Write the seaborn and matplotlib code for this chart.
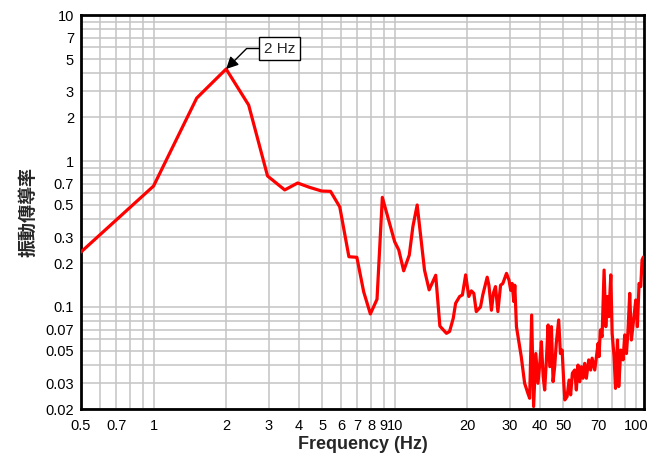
import numpy as np
import pandas as pd
import matplotlib
matplotlib.use('Agg')
import matplotlib.pyplot as plt
from matplotlib.ticker import NullFormatter
import seaborn as sns

# values (log-log plot)
freq = [0.5, 1.0, 1.51, 2.0, 2.48, 2.97, 3.50, 3.96, 4.44, 4.98, 5.42, 5.92,
        6.46, 6.97, 7.44, 7.93, 8.45, 8.89, 10.0, 10.4, 10.9, 11.5, 11.9, 12.4,
        13.3, 13.9, 14.8, 15.4, 16.4, 16.9, 17.5, 17.9, 18.6, 19.1, 19.7, 20.3,
        20.8, 21.3, 21.8, 22.7, 23.2, 24.2, 24.6, 25.2, 25.7, 26.2, 26.8, 27.5,
        28.1, 29.1, 29.8, 30.3, 30.7, 31.2, 31.5, 32.0, 33.5, 34.6, 35.7, 36.3,
        37.0, 37.7, 38.5, 39.3, 40.0, 40.6, 41.3, 41.9, 42.6, 43.3, 44.0, 44.7,
        45.4, 46.1, 46.8, 47.9, 48.7, 49.5, 50.3, 50.8, 51.9, 52.9, 53.7, 54.6,
        55.8, 56.7, 57.6, 58.6, 59.5, 60.4, 61.4, 62.4, 63.8, 65.0, 65.9, 67.6,
        68.7, 69.8, 70.4, 71.3, 72.5, 73.9, 75.1, 76.3, 77.3, 78.8, 79.8, 81.3,
        82.4, 84.0, 85.0, 86.7, 88.6, 90.0, 91.5, 92.9, 94.4, 95.9, 98.3, 100.0,
        101.6, 103.2, 104.9, 106.2, 107.6]
trans = [0.238, 0.674, 2.70, 4.27, 2.42, 0.79, 0.634, 0.707, 0.66, 0.623, 0.62, 0.485,
         0.221, 0.219, 0.127, 0.0896, 0.113, 0.564, 0.28, 0.246, 0.177, 0.227, 0.355, 0.50,
         0.179, 0.131, 0.165, 0.074, 0.066, 0.068, 0.0837, 0.106, 0.118, 0.121, 0.166, 0.118,
         0.129, 0.124, 0.093, 0.100, 0.121, 0.160, 0.141, 0.095, 0.125, 0.138, 0.093, 0.141,
         0.145, 0.170, 0.153, 0.130, 0.145, 0.109, 0.141, 0.0733, 0.0457, 0.030, 0.0256, 0.0237,
         0.088, 0.0208, 0.048, 0.030, 0.0411, 0.0578, 0.0333, 0.027, 0.0434, 0.0753, 0.039, 0.0733,
         0.0308, 0.039, 0.0563, 0.0815, 0.048, 0.0507, 0.030, 0.0231, 0.0243, 0.0316, 0.0250, 0.0352,
         0.037, 0.027, 0.040, 0.0308, 0.039, 0.0325, 0.0411, 0.0325, 0.0434, 0.037, 0.0446, 0.037,
         0.0457, 0.0564, 0.0457, 0.0696, 0.0626, 0.179, 0.0733, 0.118, 0.0858, 0.166, 0.066, 0.0457,
         0.0277, 0.0594, 0.0285, 0.0507, 0.0434, 0.0644, 0.048, 0.0696, 0.124, 0.0594, 0.0858, 0.1117,
         0.0733, 0.145, 0.138, 0.21, 0.22]

xticks = [0.5, 0.7, 1, 2, 3, 4, 5, 6, 7, 8, 9, 10, 20, 30, 40, 50, 70, 100]
xtick_labels = ['0.5', '0.7', '1', '2', '3', '4', '5', '6', '7', '8', '9', '10',
                '20', '30', '40', '50', '70', '100']
xminor = [0.6, 0.8, 0.9, 60, 80, 90]
yticks = [0.02, 0.03, 0.05, 0.07, 0.1, 0.2, 0.3, 0.5, 0.7, 1, 2, 3, 5, 7, 10]
ytick_labels = ['0.02', '0.03', '0.05', '0.07', '0.1', '0.2', '0.3', '0.5', '0.7',
                '1', '2', '3', '5', '7', '10']
yminor = [0.04, 0.06, 0.08, 0.09, 0.4, 0.6, 0.8, 0.9, 4, 6, 8, 9]

df = pd.DataFrame({'freq': freq, 'trans': trans})

sns.set_style('white')
plt.rcParams['font.family'] = ['Liberation Sans', 'DejaVu Sans']

fig = plt.figure(figsize=(6.61, 4.57), dpi=100)
ax = fig.add_axes([0.1225, 0.105, 0.8515, 0.862])

sns.lineplot(data=df, x='freq', y='trans', ax=ax, color='#ff0000', linewidth=2.3,
             estimator=None, sort=False, zorder=3)

ax.set_xscale('log')
ax.set_yscale('log')
ax.set_xlim(0.5, 108)
ax.set_ylim(0.02, 10)

ax.set_xticks(xticks, labels=xtick_labels)
ax.set_xticks(xminor, minor=True)
ax.set_yticks(yticks, labels=ytick_labels)
ax.set_yticks(yminor, minor=True)
ax.xaxis.set_minor_formatter(NullFormatter())
ax.yaxis.set_minor_formatter(NullFormatter())
ax.tick_params(which='both', length=0, labelsize=10.5, colors='black')
ax.tick_params(axis='x', pad=7)
ax.tick_params(axis='y', pad=5)

ax.grid(True, which='both', color='#c4c4c4', linewidth=1.1)
ax.set_axisbelow(True)
for s in ax.spines.values():
    s.set_color('black')
    s.set_linewidth(2)

ax.set_xlabel('Frequency (Hz)', fontsize=13, fontweight='bold', labelpad=2)
ax.set_ylabel('振動傳導率', fontsize=13, fontweight='bold', labelpad=6,
              family=['Noto Sans CJK TC', 'DejaVu Sans'])

ax.annotate('2 Hz', xy=(2.0, 4.27), xytext=(3.33, 5.9), fontsize=11,
            ha='center', va='center',
            bbox=dict(boxstyle='square,pad=0.3', fc='white', ec='black', lw=1),
            arrowprops=dict(arrowstyle='-|>', color='black', lw=1, mutation_scale=18,
                            connectionstyle='angle,angleA=0,angleB=45,rad=0',
                            shrinkA=0, shrinkB=0), zorder=5)

fig.savefig('out.png', dpi=100)
